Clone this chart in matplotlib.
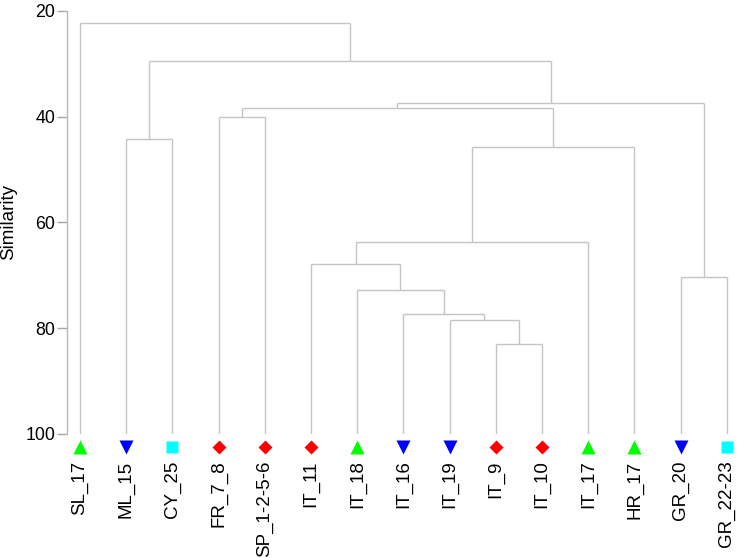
import matplotlib
matplotlib.use("Agg")
import matplotlib.pyplot as plt

plt.rcParams['font.family'] = ['Liberation Sans', 'DejaVu Sans']

# Leaves (left to right)
labels = ["SL_17", "ML_15", "CY_25", "FR_7_8", "SP_1-2-5-6", "IT_11", "IT_18",
          "IT_16", "IT_19", "IT_9", "IT_10", "IT_17", "HR_17", "GR_20", "GR_22-23"]
groups = ["tri_up", "tri_down", "square", "diamond", "diamond", "diamond", "tri_up",
          "tri_down", "tri_down", "diamond", "diamond", "tri_up", "tri_up", "tri_down", "square"]

# Merges: (child a, child b, similarity); new cluster ids start at len(labels)
merge_a = [9, 8, 7, 6, 5, 19, 20, 3, 22, 13, 23, 1, 26, 0]
merge_b = [10, 15, 16, 17, 18, 11, 12, 4, 21, 14, 24, 2, 25, 27]
merge_h = [83.0, 78.5, 77.35, 72.7, 67.8, 63.7, 45.7, 40.0, 38.3, 70.4, 37.5, 44.2, 29.5, 22.4]

leaf_level = 100
yticks = [20, 40, 60, 80, 100]

styles = {
    "tri_up": dict(marker="^", color="#00FF00", ms=10.5),
    "tri_down": dict(marker="v", color="#0000FF", ms=10.5),
    "square": dict(marker="s", color="#00FFFF", ms=8.6),
    "diamond": dict(marker="D", color="#FF0000", ms=7.4),
}

fig = plt.figure(figsize=(7.37, 5.58), dpi=100)
ax = fig.add_axes([67 / 737, 1 - 434 / 558, 1 - 67 / 737, (434 - 10.7) / 558])

line_color = "#C4C4C4"
xpos = {i: float(i) for i in range(len(labels))}
hpos = {i: leaf_level for i in range(len(labels))}
nid = len(labels)
for a, b, h in zip(merge_a, merge_b, merge_h):
    xa, xb = xpos[a], xpos[b]
    ax.plot([xa, xa], [hpos[a], h], color=line_color, lw=1.0, solid_capstyle="butt")
    ax.plot([xb, xb], [hpos[b], h], color=line_color, lw=1.0, solid_capstyle="butt")
    ax.plot([xa, xb], [h, h], color=line_color, lw=1.0, solid_capstyle="butt")
    xpos[nid] = (xa + xb) / 2
    hpos[nid] = h
    nid += 1

for i, g in enumerate(groups):
    st = styles[g]
    ax.plot([i], [102.5], linestyle="none", marker=st["marker"], ms=st["ms"],
            markerfacecolor=st["color"], markeredgecolor="none", clip_on=False)

ax.set_xlim(-0.28, 14.22)
ax.set_ylim(100, 20)
ax.set_yticks(yticks)
ax.set_xticks(range(len(labels)))
ax.set_xticklabels(labels, rotation=90, fontsize=13.5, va="top", ha="center")
ax.tick_params(axis="x", length=0, pad=19)
ax.tick_params(axis="y", length=7, width=1, color="#A8A8A8", labelsize=12.8, pad=1.5)
for s in ["top", "right", "bottom"]:
    ax.spines[s].set_visible(False)
ax.spines["left"].set_color("#B8B8B8")
ax.spines["left"].set_linewidth(1.0)
ax.set_ylabel("Similarity", fontsize=13.5)
ax.yaxis.set_label_coords(-0.074, 0.5)

fig.savefig("out.png", dpi=100)
